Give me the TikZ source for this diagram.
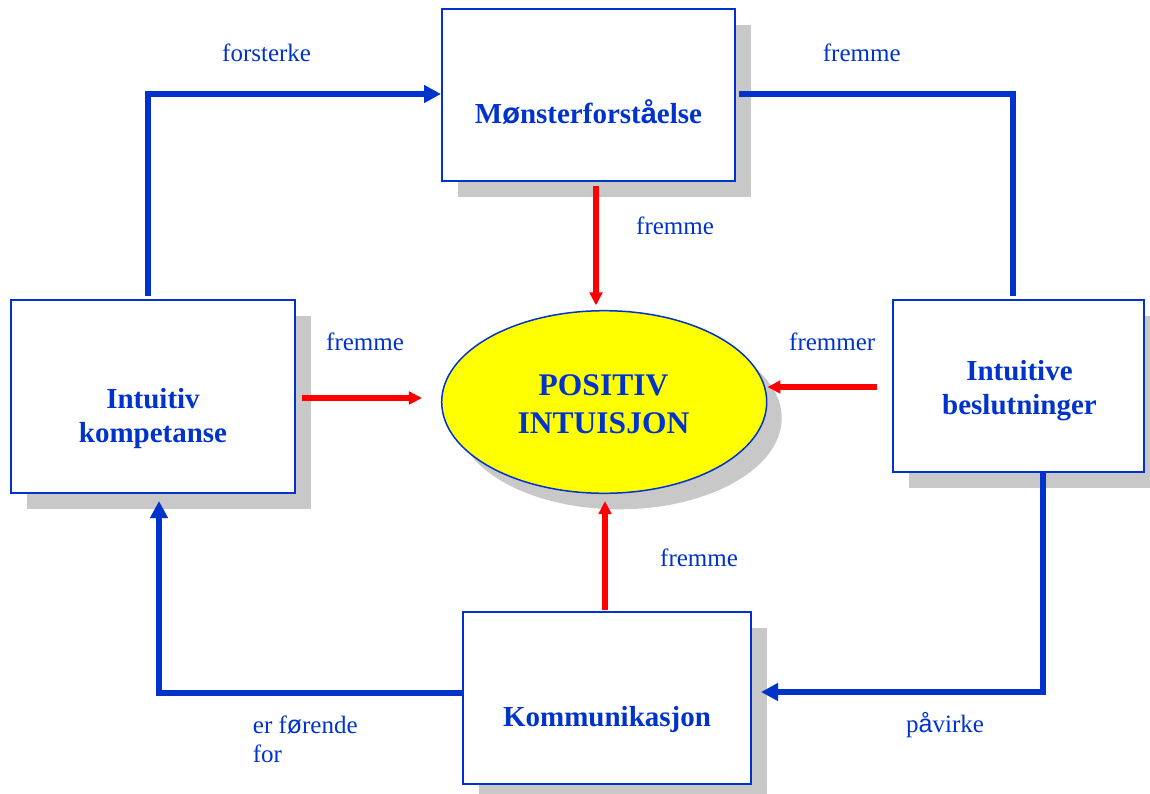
\documentclass[tikz,border=0pt]{standalone}
\usepackage{fontspec}
\setmainfont{Liberation Serif}
\newfontfamily\fallbackfont{Liberation Sans}
\newcommand{\myoe}{{\fallbackfont ø}}
\newcommand{\myaa}{{\fallbackfont å}}
\newcommand{\twoline}[2]{\begin{tabular}[t]{@{}c@{}}#1\\#2\end{tabular}}
\newcommand{\twolineL}[2]{\begin{tabular}[t]{@{}l@{}}#1\\#2\end{tabular}}
\usetikzlibrary{shadows,arrows.meta,shapes.geometric}
\definecolor{dblue}{RGB}{0,51,204}
\definecolor{sgray}{RGB}{200,200,200}
\definecolor{dred}{RGB}{255,0,0}
\definecolor{yel}{RGB}{255,255,0}
\begin{document}
\begin{tikzpicture}[x=1pt,y=-1pt,
  box/.style={draw=dblue, line width=2pt, fill=white, inner sep=0pt,
    drop shadow={shadow xshift=16pt, shadow yshift=-16pt, fill=sgray, opacity=1}},
  boxtext/.style={font=\fontsize{29}{34}\selectfont\bfseries, text=dblue, anchor=base, inner sep=0pt},
  lbl/.style={font=\fontsize{25}{29.4}\selectfont, text=dblue, anchor=base west, inner sep=0pt},
  bluearrow/.style={draw=dblue, line width=6pt, line join=miter, -{Triangle[length=17pt,width=17pt]}},
  blueline/.style={draw=dblue, line width=6pt, line join=miter},
  redarrow/.style={draw=dred, line width=5.8pt, -{Triangle[length=13pt,width=12.5pt]}},
]
\useasboundingbox (0,0) rectangle (1150,794);

% boxes
\node[box, minimum width=293pt, minimum height=172pt] (M) at (588.5,95.5) {};
\node[boxtext] (Mt) at (588.5,124) {M\myoe nsterforst\myaa else};
\node[box, minimum width=284pt, minimum height=193pt] (K) at (153,396.5) {};
\node[boxtext] (Kt) at (153,408) {\twoline{Intuitiv}{kompetanse}};
\node[box, minimum width=251pt, minimum height=172pt] (B) at (1018.5,386) {};
\node[boxtext] (Bt) at (1019.5,380) {\twoline{Intuitive}{beslutninger}};
\node[box, minimum width=288pt, minimum height=172pt] (C) at (607,698.3) {};
\node[boxtext] (Ct) at (607,726.7) {Kommunikasjon};

% ellipse
\node[ellipse, draw=dblue, line width=1.5pt, fill=yel, minimum width=325pt, minimum height=182.6pt, inner sep=0pt,
  drop shadow={shadow xshift=15pt, shadow yshift=-16pt, fill=sgray, opacity=1}] (P) at (604.2,402) {};
\node[font=\fontsize{31.5}{38}\selectfont\bfseries, text=dblue, anchor=base, inner sep=0pt] (Pt) at (603.5,395) {\twoline{POSITIV}{INTUISJON}};

% blue cycle
\draw[bluearrow] ([xshift=-5pt,yshift=3pt]K.north) |- ([yshift=1.5pt]M.west);
\draw[blueline] ([xshift=3pt,yshift=1.5pt]M.east) -| ([xshift=-6pt,yshift=3pt]B.north);
\draw[bluearrow] ([xshift=24.5pt,yshift=2pt]B.south) |- ([xshift=9pt,yshift=6.3pt]C.east);
\draw[bluearrow] ([yshift=5.3pt]C.west) -| ([xshift=6pt,yshift=-7pt]K.south);

% red arrows
\draw[redarrow] ([xshift=7.5pt,yshift=-3.5pt]M.south) -- ([xshift=-8.2pt,yshift=4.5pt]P.north);
\draw[redarrow] ([xshift=6pt,yshift=-1.5pt]K.east) -- ([xshift=-19pt,yshift=4pt]P.west);
\draw[redarrow] ([xshift=-15pt,yshift=-1pt]B.west) -- ([yshift=15pt]P.east);
\draw[redarrow] ([xshift=-2pt,yshift=1pt]C.north) -- ([xshift=0.8pt,yshift=-7pt]P.south);

% labels
\node[lbl] (l1) at (222,62) {forsterke};
\node[lbl] (l2) at (822.7,61.7) {fremme};
\node[lbl] (l3) at (636,234.5) {fremme};
\node[lbl] (l4) at (326,350.7) {fremme};
\node[lbl] (l5) at (789,350.7) {fremmer};
\node[lbl] (l6) at (660,566.5) {fremme};
\node[lbl] (l7) at (252.7,733.3) {\twolineL{er f\myoe rende}{for}};
\node[lbl] (l8) at (906,732.7) {p\myaa virke};
\end{tikzpicture}
\end{document}
